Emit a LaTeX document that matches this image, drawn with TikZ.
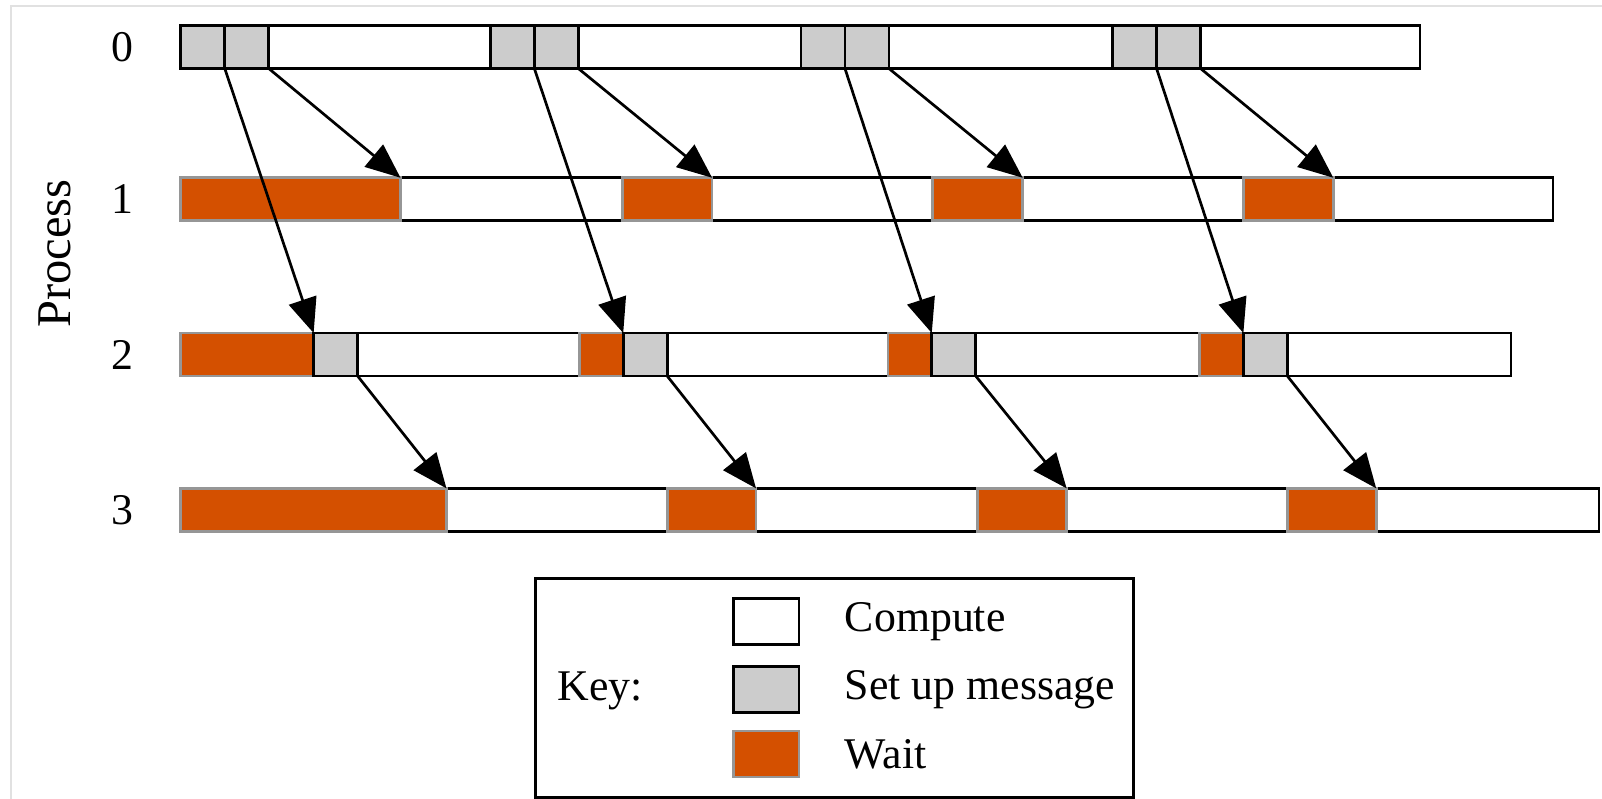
\documentclass[tikz,border=0pt]{standalone}
\usepackage{fontspec}
\setmainfont{Liberation Serif}
\usetikzlibrary{arrows.meta,positioning}
\definecolor{setupgrey}{RGB}{204,204,204}
\definecolor{waitred}{RGB}{212,80,0}
\definecolor{waitedge}{RGB}{150,150,150}
\definecolor{framegrey}{RGB}{225,225,225}

\tikzset{
  bar/.style={draw=black, line width=0.75pt, fill=white},
  seg/.style={line width=0.75pt, minimum height=4.2mm, inner sep=0pt, outer sep=0pt, anchor=north west},
  setupbox/.style={seg, draw=black, fill=setupgrey, minimum width=4.3mm},
  waitbox/.style={seg, draw=waitedge, fill=waitred},
  legsw/.style={draw=black, line width=0.75pt, minimum width=6.4mm, minimum height=4.5mm, inner sep=0pt},
  msg/.style={-{Triangle[length=3.4mm,width=2.8mm]}, line width=0.75pt},
  lbl/.style={font=\fontsize{12.2}{15}\selectfont},
}

\begin{document}
\begin{tikzpicture}[x=0.1mm, y=-0.1mm]
    \useasboundingbox (0,0) rectangle (1568,782);
    % faint frame of the figure
    \draw[framegrey, line width=0.5pt] (10.7,782) -- (10.7,6) -- (1568,6);

    % Axis label and process numbers
    \node[font=\fontsize{13.5}{16}\selectfont, rotate=90] (proc) at (54,248) {Process};
    \foreach \p/\y in {0/46,1/195,2/347,3/499}
        \node[lbl] (p\p) at (120,\y) {\p};

    % Process 0: two set-ups, then compute
    \draw[bar] (177,25) rectangle (1390,67);
    \foreach \k/\x in {0/177,1/480,2/784,3/1089} {
        \node[setupbox] (sa\k) at (\x,25) {};
        \node[setupbox, right=0pt of sa\k] (sb\k) {};
    }

    % Process 1
    \draw[bar] (177,174) rectangle (1520,216);
    \node[waitbox, minimum width=21.5mm] (r10) at (177,174) {};
    \foreach \k/\x in {1/609,2/913,3/1217}
        \node[waitbox, minimum width=8.8mm] (r1\k) at (\x,174) {};

    % Process 2
    \draw[bar] (177,326) rectangle (1479,368);
    \node[waitbox, minimum width=13mm] (r20) at (177,326) {};
    \foreach \k/\x in {1/567,2/869,3/1174}
        \node[waitbox, minimum width=4.3mm] (r2\k) at (\x,326) {};
    \foreach \k in {0,...,3}
        \node[setupbox, right=0pt of r2\k] (s2\k) {};

    % Process 3
    \draw[bar] (177,478) rectangle (1565,520);
    \node[waitbox, minimum width=26mm] (r30) at (177,478) {};
    \foreach \k/\x in {1/653,2/957,3/1260}
        \node[waitbox, minimum width=8.7mm] (r3\k) at (\x,478) {};

    % Messages
    \foreach \k in {0,...,3} {
        \draw[msg] (sa\k.south east) -- (r2\k.north east);
        \draw[msg] (sb\k.south east) -- (r1\k.north east);
        \draw[msg] (s2\k.south east) -- (r3\k.north east);
    }

    % Key
    \node[draw, line width=0.75pt, minimum width=58.5mm, minimum height=21.4mm,
          inner sep=0pt, anchor=north west] (key) at (523,565) {};
    \node[lbl, anchor=west, inner sep=0pt] (keytxt) at (545,676) {Key:};
    \node[legsw, fill=white] (kc) at (750,608) {};
    \node[legsw, fill=setupgrey] (ks) at (750,675) {};
    \node[legsw, fill=waitred, draw=waitedge] (kw) at (750,738) {};
    \node[lbl, inner sep=0pt, right=4.3mm of kc] (kctxt) {Compute};
    \node[lbl, inner sep=0pt, right=4.3mm of ks] (kstxt) {Set up message};
    \node[lbl, inner sep=0pt, right=4.3mm of kw] (kwtxt) {Wait};
\end{tikzpicture}
\end{document}
